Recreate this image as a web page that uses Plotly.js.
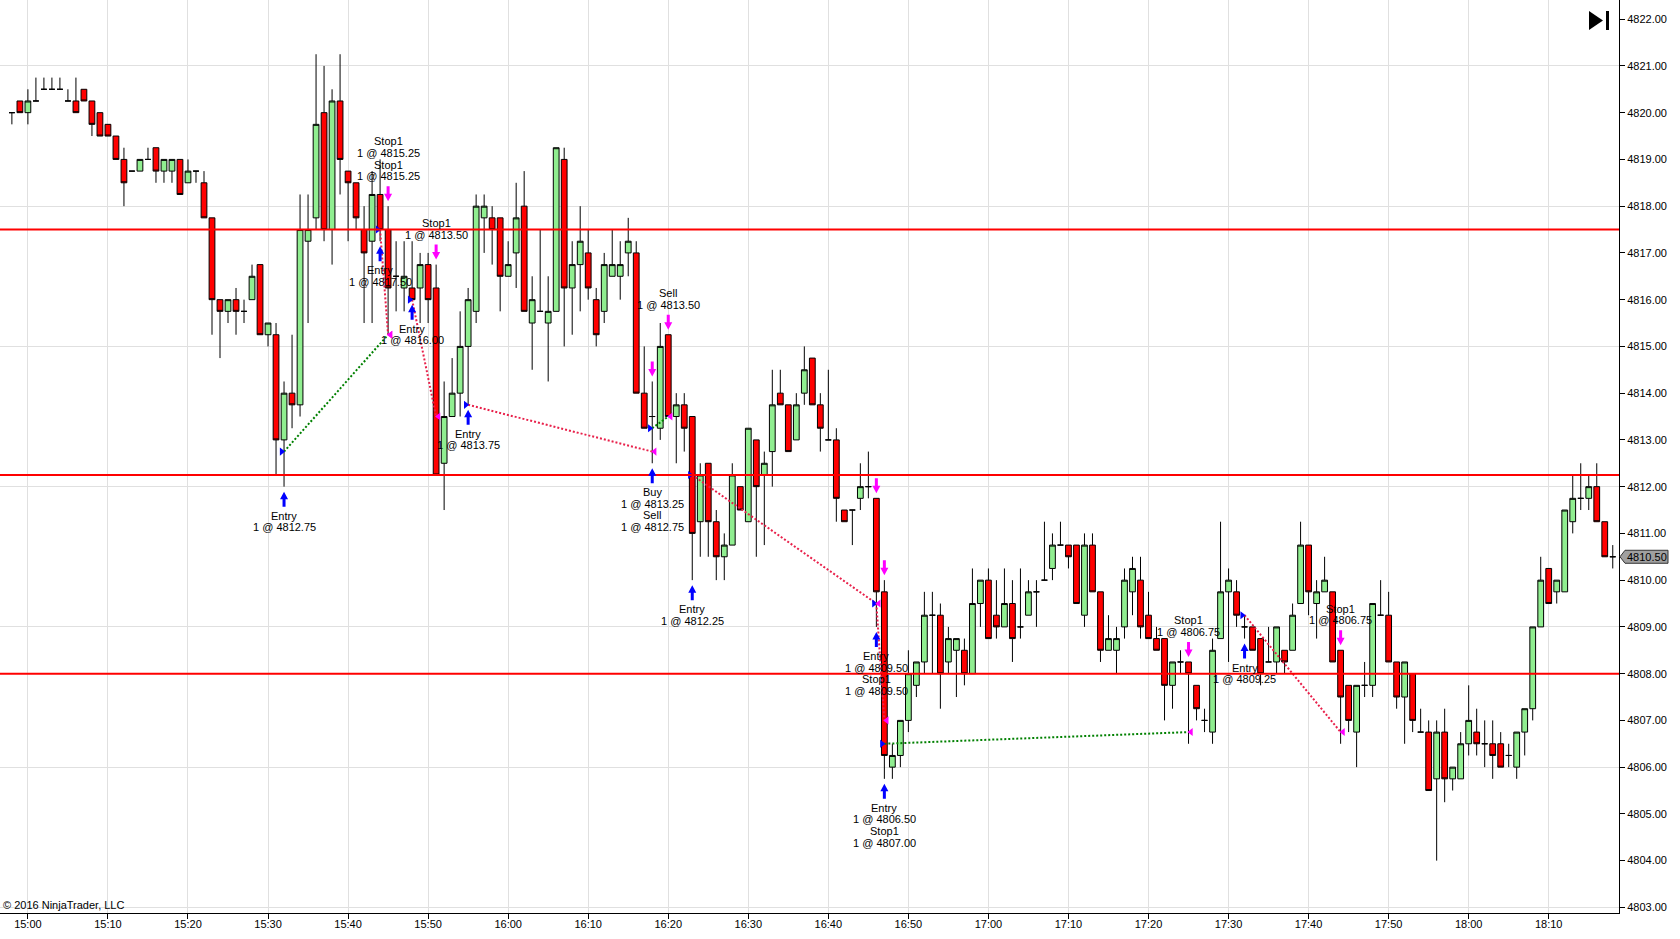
<!DOCTYPE html>
<html><head><meta charset="utf-8">
<script src="https://cdn.plot.ly/plotly-3.0.1.min.js"></script>
<style>html,body{margin:0;padding:0;background:#fff;}#chart{width:1680px;height:939px;}</style>
</head><body><div id="chart"></div>
<script>
const times = [
'14:58','14:59','15:00','15:01','15:02','15:03','15:04','15:05','15:06','15:07',
'15:08','15:09','15:10','15:11','15:12','15:13','15:14','15:15','15:16','15:17',
'15:18','15:19','15:20','15:21','15:22','15:23','15:24','15:25','15:26','15:27',
'15:28','15:29','15:30','15:31','15:32','15:33','15:34','15:35','15:36','15:37',
'15:38','15:39','15:40','15:41','15:42','15:43','15:44','15:45','15:46','15:47',
'15:48','15:49','15:50','15:51','15:52','15:53','15:54','15:55','15:56','15:57',
'15:58','15:59','16:00','16:01','16:02','16:03','16:04','16:05','16:06','16:07',
'16:08','16:09','16:10','16:11','16:12','16:13','16:14','16:15','16:16','16:17',
'16:18','16:19','16:20','16:21','16:22','16:23','16:24','16:25','16:26','16:27',
'16:28','16:29','16:30','16:31','16:32','16:33','16:34','16:35','16:36','16:37',
'16:38','16:39','16:40','16:41','16:42','16:43','16:44','16:45','16:46','16:47',
'16:48','16:49','16:50','16:51','16:52','16:53','16:54','16:55','16:56','16:57',
'16:58','16:59','17:00','17:01','17:02','17:03','17:04','17:05','17:06','17:07',
'17:08','17:09','17:10','17:11','17:12','17:13','17:14','17:15','17:16','17:17',
'17:18','17:19','17:20','17:21','17:22','17:23','17:24','17:25','17:26','17:27',
'17:28','17:29','17:30','17:31','17:32','17:33','17:34','17:35','17:36','17:37',
'17:38','17:39','17:40','17:41','17:42','17:43','17:44','17:45','17:46','17:47',
'17:48','17:49','17:50','17:51','17:52','17:53','17:54','17:55','17:56','17:57',
'17:58','17:59','18:00','18:01','18:02','18:03','18:04','18:05','18:06','18:07',
'18:08','18:09','18:10','18:11','18:12','18:13','18:14','18:15','18:16','18:17',
'18:18'];

const open = [
4820,4820.25,4820,4820.25,4820.5,4820.5,4820.5,4820.25,4820.25,4820.5,
4820.25,4820,4819.75,4819.5,4819,4818.75,4818.75,4819,4819.25,4818.75,
4818.75,4819,4818.5,4818.75,4818.5,4817.75,4816,4815.75,4816,4815.75,
4816,4816.75,4815.25,4815.25,4813,4814,4813.75,4817.25,4817.75,4820,
4817.5,4820.25,4818.75,4818.5,4817.5,4817.25,4818.25,4817.5,4816.5,4816.25,
4816.25,4816.25,4816.75,4816.25,4812.5,4813.5,4814,4815,4815.75,4817.75,
4817.75,4817.75,4816.5,4817,4818,4815.5,4815.75,4815.5,4815.75,4819,
4816.25,4816.75,4817,4816,4815.75,4816.5,4816.5,4817,4817,4814,
4813.5,4813.25,4815.25,4813.5,4813.75,4813.5,4811.25,4812.5,4811.25,4810.5,
4810.75,4812,4811.25,4813,4812.25,4812.75,4814,4813.75,4813,4814,
4814.75,4813.75,4813,4813,4811.5,4811.5,4811.75,4812,4811.75,4809.75,
4806,4806.25,4807,4807.75,4808.25,4809.25,4809.25,4808.25,4808.5,4808.5,
4808,4809.5,4810,4809.25,4809,4809.5,4809,4809.25,4809.75,4810,
4810.25,4810.75,4810.75,4810.75,4809.25,4810.75,4809.75,4808.5,4808.5,4809,
4809.75,4810,4809.25,4808.75,4808.75,4807.75,4808.25,4808.25,4807.75,4807,
4806.75,4808.75,4809.75,4809.75,4809,4809,4808.75,4808.25,4808.25,4808.5,
4808.5,4809.5,4810.75,4809.5,4809.75,4809.75,4808.5,4807.75,4806.75,4807.75,
4807.75,4809.25,4809.25,4808.25,4807.5,4808,4806.75,4806.75,4805.75,4806.75,
4805.75,4805.75,4806.5,4806.75,4806.5,4806.5,4806.5,4806.25,4806,4806.75,
4807.25,4809,4810.25,4809.75,4809.75,4811.25,4811.75,4811.75,4812,4811.25,
4810.5];

const high = [
4820,4820.25,4820.5,4820.75,4820.75,4820.75,4820.75,4820.5,4820.75,4820.5,
4820.25,4820,4819.75,4819.5,4819.25,4818.75,4819,4819.25,4819.25,4819,
4819,4819,4819,4818.75,4818.75,4817.75,4816,4816,4816.25,4816,
4816.75,4816.75,4815.5,4815.5,4814.25,4815.25,4818.25,4818.25,4821.25,4821,
4820.5,4821.25,4818.75,4818.5,4818,4818.75,4819,4818,4817.25,4817.25,
4817.25,4817,4817,4816.75,4814.25,4814.75,4815.75,4816.25,4818.25,4818.25,
4818,4817.75,4817.25,4818.5,4818.75,4816.5,4817.5,4816.5,4819.25,4819.25,
4817.25,4818,4817.5,4816.25,4817,4817.5,4817.25,4817.75,4817.25,4815,
4814.25,4815.5,4815.25,4814,4814,4813.5,4812.5,4812.5,4811.5,4811,
4812.5,4812,4813.25,4813,4812.75,4814.5,4814.5,4813.75,4814,4815,
4814.75,4814,4814.5,4813.25,4811.5,4811.5,4812.5,4812.75,4811.75,4810,
4806.5,4807,4808.5,4808.25,4809.75,4809.75,4809.5,4809,4808.75,4808.75,
4810.25,4810,4810.25,4810,4810.25,4810,4810.25,4810,4810,4811.25,
4811,4811.25,4810.75,4810.75,4811,4811,4809.75,4809.25,4809,4810.25,
4810.5,4810.5,4809.75,4809,4808.75,4808.25,4808.5,4808.25,4807.75,4807.25,
4808.75,4811.25,4810.25,4810,4809.25,4809,4808.75,4809,4809,4808.5,
4809.5,4811.25,4810.75,4810,4810.5,4809.75,4808.5,4807.75,4807.75,4808.25,
4809.5,4810,4809.75,4808.25,4808.25,4808,4807.25,4807,4807,4807.25,
4806,4806.75,4807.75,4807.25,4807,4807,4806.75,4806.5,4806.75,4807.25,
4809,4810.5,4810.25,4810,4811.5,4812.25,4812.5,4812.25,4812.5,4811.25,
4810.75];

const low = [
4819.75,4820,4819.75,4820.25,4820.5,4820.5,4820.5,4820.25,4820,4820.25,
4819.5,4819.5,4819.5,4819,4818,4818.75,4818.75,4819,4818.5,4818.5,
4818.5,4818.25,4818.5,4818.5,4817.75,4815.25,4814.75,4815.5,4815.25,4815.5,
4816,4815.25,4815,4812.25,4812,4813.25,4813.5,4815.5,4817.5,4817.25,
4816.75,4818.25,4817.25,4817.5,4815.5,4815.5,4817.25,4815.25,4815.75,4815.75,
4816,4815.5,4815.5,4812.25,4811.5,4813.5,4813.5,4813.75,4815.5,4817,
4816.75,4815.75,4816.5,4816.25,4815.75,4814.5,4815.75,4814.25,4815.75,4815,
4815.25,4815.75,4816,4815,4815.5,4816.5,4816,4816.5,4814,4813.25,
4812.5,4813,4813.5,4812.5,4812.75,4810,4810.5,4810.5,4810,4810,
4810.75,4811.5,4811.25,4810.5,4810.75,4812,4813.75,4812.75,4813,4813.75,
4813.75,4812.75,4813,4811.25,4811.25,4810.75,4811.5,4811.75,4809,4805.75,
4805.75,4806,4806.75,4807.5,4808,4808,4807.25,4808,4807.5,4807.75,
4808,4809,4808.75,4808.75,4809,4808.25,4808.75,4809.25,4809,4810,
4810,4810.75,4810.25,4809.5,4809,4809.75,4808.25,4808.5,4808,4808.75,
4809.25,4808.75,4808.75,4808.5,4807,4807.25,4808,4806.5,4807,4806.75,
4806.5,4808.75,4808.25,4809,4808.75,4808.5,4807.75,4808.25,4808,4808,
4808.5,4809.5,4809.25,4808.75,4809.75,4808.25,4806.5,4806.75,4806,4807.5,
4807.5,4809.25,4808.25,4807.25,4806.5,4806.75,4806.75,4805.5,4804,4805.25,
4805.5,4805.75,4806.25,4806.25,4806,4805.75,4806,4806,4805.75,4806.25,
4807,4809,4809.5,4809.5,4809.75,4811,4811.5,4811.5,4811.25,4810.5,
4810.25];

const close = [
4820,4820,4820.25,4820.25,4820.5,4820.5,4820.5,4820.25,4820,4820.25,
4819.75,4819.5,4819.5,4819,4818.5,4818.75,4819,4819,4818.75,4819,
4819,4818.25,4818.75,4818.75,4817.75,4816,4815.75,4816,4815.75,4815.75,
4816.5,4815.25,4815.5,4813,4814,4813.75,4817.5,4817.5,4819.75,4817.5,
4820.25,4819,4818.5,4817.75,4817,4818.25,4817.5,4816.25,4816.5,4816.5,
4816,4816.75,4816,4812.25,4813.5,4814,4815,4816,4818,4818,
4817.5,4816.5,4816.75,4817.75,4815.75,4816,4815.75,4815.75,4819.25,4816.25,
4816.75,4817.25,4816.25,4815.25,4816.75,4816.75,4816.75,4817.25,4814,4813.25,
4813.5,4815,4813.5,4813.75,4813.25,4811,4812.25,4811.25,4810.5,4810.75,
4812.25,4811.5,4813.25,4812,4812.5,4813.75,4813.75,4812.75,4813.75,4814.5,
4813.75,4813.25,4813,4811.75,4811.25,4811.5,4812,4812,4809.75,4806.25,
4806.25,4807,4808,4808.25,4809.25,4809.25,4808,4808.75,4808.75,4808,
4809.5,4810,4808.75,4809,4809.5,4808.75,4809,4809.75,4809.75,4810,
4810.75,4810.75,4810.5,4809.5,4810.75,4809.75,4808.5,4808.75,4808.75,4810,
4810.25,4809,4808.75,4808.5,4807.75,4808.25,4808.25,4808,4807.25,4807,
4808.5,4809.75,4810,4809.25,4809,4808.5,4808,4808.25,4809,4808.25,
4809.25,4810.75,4809.75,4809.75,4810,4808.25,4807.5,4807,4807.75,4807.75,
4809.5,4809.25,4808.25,4807.5,4808.25,4807,4806.75,4805.5,4806.75,4805.75,
4806,4806.5,4807,4806.5,4806.5,4806.25,4806,4806.25,4806.75,4807.25,
4809,4810,4809.5,4810,4811.5,4811.75,4811.75,4812,4811.25,4810.5,
4810.5];

// horizontal price lines
const levels = [4817.5, 4812.25, 4808.0];

// trades (long)
const entryTime  = ['15:32','15:44','15:48','15:55','16:18','16:23','16:46','16:47','17:32'];
const entryPrice = [4812.75,4817.5,4816.0,4813.75,4813.25,4812.25,4809.5,4806.5,4809.25];
const exitTime   = ['15:45','15:45','15:51','16:18','16:20','16:46','16:47','17:25','17:44'];
const exitPrice  = [4815.25,4815.25,4813.5,4812.75,4813.5,4809.5,4807.0,4806.75,4806.75];

// execution labels
const belowBars  = ['15:32','15:44','15:48','15:55','16:18','16:23','16:46','16:47','17:32'];
const belowText  = [
 ['Entry','1 @ 4812.75'],
 ['Entry','1 @ 4817.50'],
 ['Entry','1 @ 4816.00'],
 ['Entry','1 @ 4813.75'],
 ['Buy','1 @ 4813.25','Sell','1 @ 4812.75'],
 ['Entry','1 @ 4812.25'],
 ['Entry','1 @ 4809.50','Stop1','1 @ 4809.50'],
 ['Entry','1 @ 4806.50','Stop1','1 @ 4807.00'],
 ['Entry','1 @ 4809.25']];
const aboveBars  = ['15:45','15:51','16:20','17:25','17:44'];
const aboveText  = [
 ['Stop1','1 @ 4815.25','Stop1','1 @ 4815.25'],
 ['Stop1','1 @ 4813.50'],
 ['Sell','1 @ 4813.50'],
 ['Stop1','1 @ 4806.75'],
 ['Stop1','1 @ 4806.75']];
const sellArrowBars = ['15:45','15:51','16:18','16:20','16:46','16:47','17:25','17:44'];

const xTickLabels = ['15:00','15:10','15:20','15:30','15:40','15:50','16:00','16:10','16:20','16:30',
 '16:40','16:50','17:00','17:10','17:20','17:30','17:40','17:50','18:00','18:10'];

const copyright = '\u00a9 2016 NinjaTrader, LLC';

// ---------- build ----------
const toMin = s => { const p = s.split(':').map(Number); return (p[0] - 15) * 60 + p[1]; };
const xs = times.map(toMin);
const idx = {}; times.forEach((t, i) => idx[t] = i);

const X0 = -3.486, X1 = 198.78;
const Y0 = 4802.88, Y1 = 4822.41;
const FONT = 'Liberation Sans, Arial, sans-serif';
const LINE = 11.6;

const traces = [];
traces.push({
  type: 'candlestick', x: xs, open: open, high: high, low: low, close: close,
  increasing: {line: {color: '#000', width: 1}, fillcolor: '#90EE90'},
  decreasing: {line: {color: '#000', width: 1}, fillcolor: '#FF0000'},
  whiskerwidth: 0, hoverinfo: 'skip', showlegend: false
});

// trade connection lines
const gx = [], gy = [], rx = [], ry = [];
entryTime.forEach((t, i) => {
  const a = toMin(t), b = toMin(exitTime[i]);
  const win = exitPrice[i] > entryPrice[i];
  const X = win ? gx : rx, Y = win ? gy : ry;
  X.push(a, b, null); Y.push(entryPrice[i], exitPrice[i], null);
});
traces.push({type: 'scatter', mode: 'lines', x: gx, y: gy, line: {color: '#008000', width: 2, dash: '2px,2px'}, hoverinfo: 'skip', showlegend: false});
traces.push({type: 'scatter', mode: 'lines', x: rx, y: ry, line: {color: '#E8204A', width: 2, dash: '2px,2px'}, hoverinfo: 'skip', showlegend: false});
traces.push({type: 'scatter', mode: 'markers', x: entryTime.map(t => toMin(t) - 0.3), y: entryPrice,
  marker: {symbol: 'triangle-right', size: 7, color: '#0000FF', line: {width: 0}}, hoverinfo: 'skip', showlegend: false});
traces.push({type: 'scatter', mode: 'markers', x: exitTime.map(t => toMin(t) + 0.3), y: exitPrice,
  marker: {symbol: 'triangle-left', size: 7, color: '#FF00FF', line: {width: 0}}, hoverinfo: 'skip', showlegend: false});
// carrier for the labelled price axis
traces.push({type: 'scatter', mode: 'lines', x: xs, y: close, yaxis: 'y2', opacity: 0, line: {width: 0}, hoverinfo: 'skip', showlegend: false});

const shapes = [];
levels.forEach(v => shapes.push({type: 'line', xref: 'x', yref: 'y', x0: X0, x1: X1, y0: v, y1: v,
  line: {color: '#FF0000', width: 2}, layer: 'above'}));

const upPath = 'M0,-5 L4,-12.5 L1.5,-12.5 L1.5,-20 L-1.5,-20 L-1.5,-12.5 L-4,-12.5 Z';
const dnPath = 'M0,5 L4,12.5 L1.5,12.5 L1.5,20 L-1.5,20 L-1.5,12.5 L-4,12.5 Z';
entryTime.forEach(t => {
  const i = idx[t];
  shapes.push({type: 'path', xref: 'x', yref: 'y', xsizemode: 'pixel', ysizemode: 'pixel',
    xanchor: xs[i], yanchor: low[i], path: upPath, fillcolor: '#0000FF', line: {width: 0}, layer: 'above'});
});
sellArrowBars.forEach(t => {
  const i = idx[t];
  shapes.push({type: 'path', xref: 'x', yref: 'y', xsizemode: 'pixel', ysizemode: 'pixel',
    xanchor: xs[i], yanchor: high[i], path: dnPath, fillcolor: '#FF00FF', line: {width: 0}, layer: 'above'});
});

// NinjaTrader "go to end" icon
shapes.push({type: 'path', xref: 'paper', yref: 'paper', xsizemode: 'pixel', ysizemode: 'pixel', xanchor: 1, yanchor: 1,
  path: 'M-30,-11 L-16,-20.5 L-30,-30 Z', fillcolor: '#000', line: {width: 0}});
shapes.push({type: 'path', xref: 'paper', yref: 'paper', xsizemode: 'pixel', ysizemode: 'pixel', xanchor: 1, yanchor: 1,
  path: 'M-13,-11 L-10,-11 L-10,-30 L-13,-30 Z', fillcolor: '#000', line: {width: 0}});

// last price tag
const last = close[close.length - 1];
const lastFrac = (last - Y0) / (Y1 - Y0);
shapes.push({type: 'path', xref: 'paper', yref: 'paper', xsizemode: 'pixel', ysizemode: 'pixel', xanchor: 1, yanchor: lastFrac,
  path: 'M1,0 L6,6.5 L49,6.5 L49,-6.5 L6,-6.5 Z', fillcolor: '#A0A0A0', line: {color: '#333', width: 1}});

const annotations = [];
const lbl = (x, y, text, yshift) => annotations.push({x: x, y: y, xref: 'x', yref: 'y', text: text, showarrow: false,
  xanchor: 'center', yanchor: 'middle', yshift: yshift, borderpad: 0, font: {family: FONT, size: 11, color: '#000'}});
belowBars.forEach((t, k) => {
  const i = idx[t];
  belowText[k].forEach((s, j) => lbl(xs[i], low[i], s, -(29 + LINE * j)));
});
aboveBars.forEach((t, k) => {
  const i = idx[t], n = aboveText[k].length;
  aboveText[k].forEach((s, j) => lbl(xs[i], high[i], s, 30 + LINE * (n - 1 - j)));
});
annotations.push({xref: 'paper', yref: 'y', x: 1, y: last, xanchor: 'left', yanchor: 'middle', xshift: 7, borderpad: 0,
  text: last.toFixed(2), showarrow: false, font: {family: FONT, size: 11, color: '#000'}});
annotations.push({xref: 'paper', yref: 'paper', x: 0, y: 0, xanchor: 'left', yanchor: 'bottom', xshift: 2, yshift: 1, borderpad: 0,
  text: copyright, showarrow: false, font: {family: FONT, size: 11, color: '#000'}});

const layout = {
  width: 1680, height: 939,
  margin: {l: 0, r: 61, t: 0, b: 26, pad: 0},
  paper_bgcolor: '#fff', plot_bgcolor: '#fff', showlegend: false,
  boxgap: 0.28, boxgroupgap: 0,
  font: {family: FONT, size: 11, color: '#000'},
  xaxis: {type: 'linear', range: [X0, X1], tickmode: 'array', tickvals: xTickLabels.map(toMin), ticktext: xTickLabels,
    showgrid: true, gridcolor: '#E0E0E0', gridwidth: 1, zeroline: false, showline: true, linecolor: '#000', linewidth: 1,
    ticks: 'outside', ticklen: 5, tickcolor: '#000', ticklabelstandoff: -4, tickfont: {family: FONT, size: 11, color: '#000'},
    rangeslider: {visible: false}, fixedrange: true},
  yaxis: {range: [Y0, Y1], side: 'right', tick0: 4803, dtick: 3, showticklabels: false, ticks: '',
    showgrid: true, gridcolor: '#E0E0E0', gridwidth: 1, zeroline: false, showline: true, linecolor: '#000', linewidth: 1, fixedrange: true},
  yaxis2: {range: [Y0, Y1], overlaying: 'y', side: 'right', anchor: 'x', tick0: 4803, dtick: 1, tickformat: '.2f',
    ticks: 'outside', ticklen: 5, tickcolor: '#000', showgrid: false, zeroline: false, showline: false,
    tickfont: {family: FONT, size: 11, color: '#000'}, fixedrange: true},
  shapes: shapes, annotations: annotations
};

Plotly.newPlot('chart', traces, layout, {displayModeBar: false, staticPlot: true});
</script>
</body></html>
